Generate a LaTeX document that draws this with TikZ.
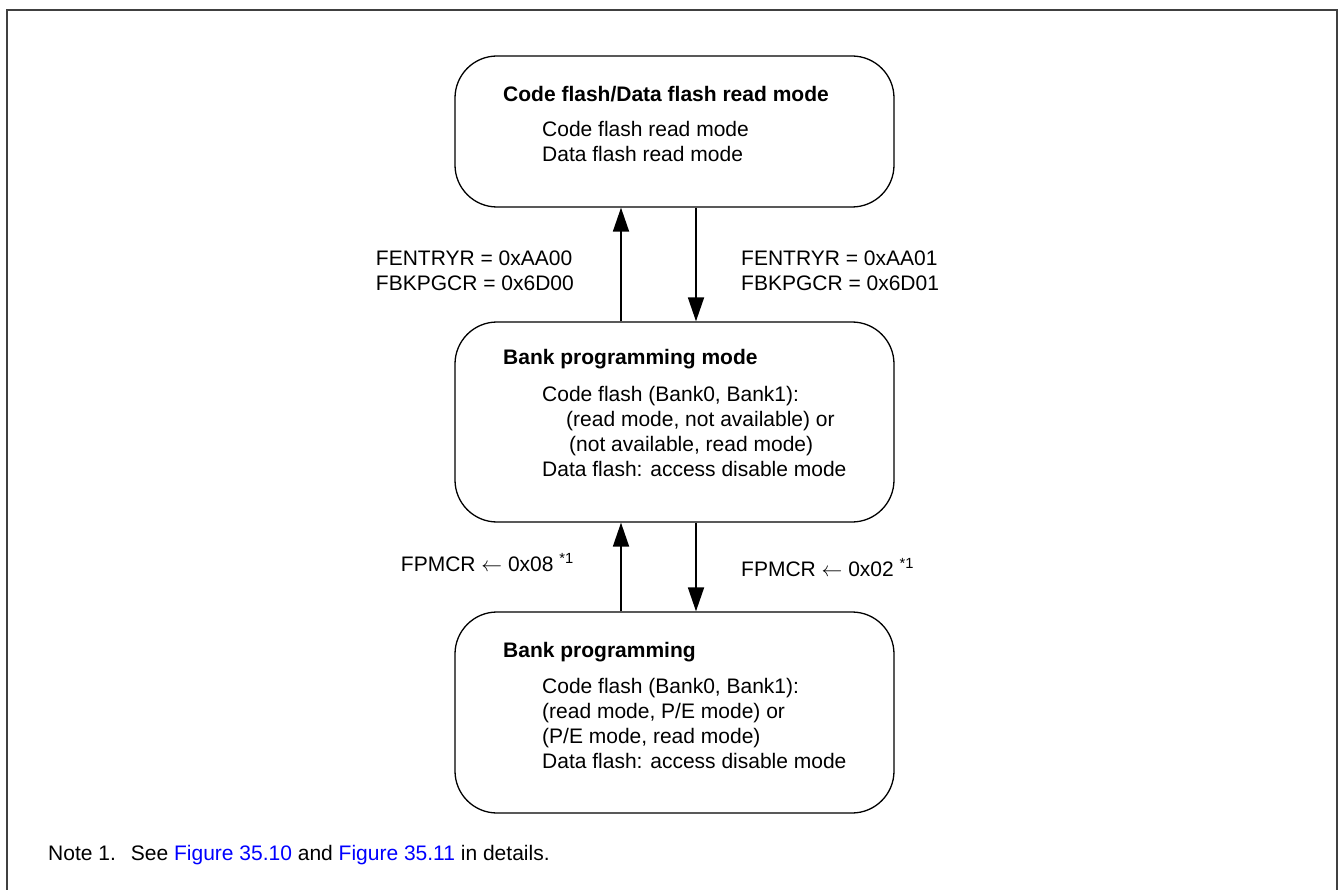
\documentclass[tikz,border=0pt]{standalone}
\usepackage{fontspec}
\setmainfont{Liberation Sans}
\usetikzlibrary{positioning,arrows.meta}
\definecolor{framegray}{RGB}{64,64,64}
\definecolor{link}{RGB}{0,0,255}

\begin{document}
\begin{tikzpicture}[x=1pt, y=-1pt,
    state/.style={draw, rounded corners=42pt, line width=1.3pt, minimum width=439pt, minimum height=#1, inner sep=0pt},
    txt/.style={anchor=base west, inner sep=0pt, align=left, font=\fontsize{21}{25}\selectfont},
    title/.style={txt, font=\fontsize{21}{25}\selectfont\bfseries},
    arrow/.style={-{Triangle[length=24pt,width=16pt]}, line width=1.8pt}
]
    \useasboundingbox (0,0) rectangle (1341,890);

    % Frame
    \draw[framegray, line width=2.6pt] (7,900) -- (7,10) -- (1337,10) -- (1337,900);

    % States
    \node[state=151pt] (read) at (674.5,131.5) {};
    \node[state=200pt] (bankmode) at (674.5,422) {};
    \node[state=201pt] (bankprog) at (674.5,712.5) {};

    % Read mode (base = last line)
    \node[title] (readT) at (503,102) {Code flash/Data flash read mode};
    \node[txt] (readB) at (542,162) {Code flash read mode\\Data flash read mode};

    % Bank programming mode
    \node[title] (modeT) at (503,365) {Bank programming mode};
    \node[txt] (modeB) at (542,476) {Code flash (Bank0, Bank1):\\
        \hspace*{24pt}(read mode, not available) or\\
        \hspace*{27pt}(not available, read mode)\\
        Data flash: access disable mode};

    % Bank programming
    \node[title] (progT) at (503,657) {Bank programming};
    \node[txt] (progB) at (542,768) {Code flash (Bank0, Bank1):\\
        (read mode, P/E mode) or\\
        (P/E mode, read mode)\\
        Data flash: access disable mode};

    % Arrows
    \draw[arrow] ([xshift=-53.5pt]bankmode.north) -- ([xshift=-53.5pt]read.south);
    \draw[arrow] ([xshift=21.5pt]read.south) -- ([xshift=21.5pt]bankmode.north);
    \draw[arrow] ([xshift=-53.5pt]bankprog.north) -- ([xshift=-53.5pt]bankmode.south);
    \draw[arrow] ([xshift=21.5pt]bankmode.south) -- ([xshift=21.5pt]bankprog.north);

    % Labels
    \node[txt, anchor=base east] (exitL) at (574,291) {FENTRYR = 0xAA00\\FBKPGCR = 0x6D00};
    \node[txt] (entryL) at (741,291) {FENTRYR = 0xAA01\\FBKPGCR = 0x6D01};
    \node[txt, anchor=base east] (stopL) at (574,571) {FPMCR $\leftarrow$ 0x08 \textsuperscript{*1}};
    \node[txt] (startL) at (741,576) {FPMCR $\leftarrow$ 0x02 \textsuperscript{*1}};

    % Note
    \node[txt] (note) at (48,860) {Note 1.\hspace*{15pt}See \textcolor{link}{Figure 35.10} and \textcolor{link}{Figure 35.11} in details.};
\end{tikzpicture}
\end{document}
